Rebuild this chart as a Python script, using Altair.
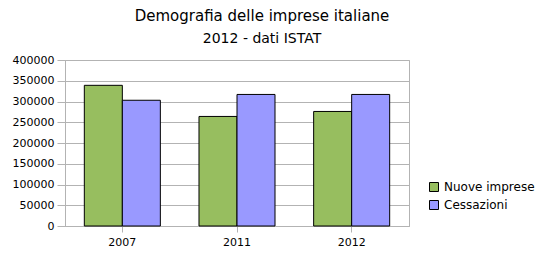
import altair as alt
import pandas as pd

years = ["2007", "2011", "2012"]
series_names = ["Nuove imprese", "Cessazioni"]
nuove_imprese = [339000, 264000, 276000]
cessazioni = [303000, 317000, 317000]
colors = ["#97BE5F", "#9999FF"]
y_ticks = [0, 50000, 100000, 150000, 200000, 250000, 300000, 350000, 400000]

rows = []
for i, y in enumerate(years):
    rows.append({"anno": y, "serie": series_names[0], "valore": nuove_imprese[i]})
    rows.append({"anno": y, "serie": series_names[1], "valore": cessazioni[i]})
df = pd.DataFrame(rows)

FONT = "DejaVu Sans"
GRID = "#b3b3b3"

chart = alt.Chart(df).mark_bar(stroke="black", strokeWidth=1).encode(
    x=alt.X("anno:N", sort=years, title=None,
            scale=alt.Scale(paddingInner=0.337, paddingOuter=0.1685),
            axis=alt.Axis(labelAngle=0, tickSize=6, tickColor=GRID, domainColor=GRID,
                          labelPadding=4, labelFontSize=11, labelColor="#000",
                          labelFont=FONT)),
    xOffset=alt.XOffset("serie:N", sort=series_names,
                        scale=alt.Scale(paddingInner=0, paddingOuter=0)),
    y=alt.Y("valore:Q", title=None,
            scale=alt.Scale(domain=[0, 400000], nice=False),
            axis=alt.Axis(values=y_ticks, format="d", tickSize=8, tickColor=GRID,
                          domainColor=GRID, gridColor=GRID, labelPadding=3,
                          labelFontSize=11, labelColor="#000", labelFont=FONT)),
    color=alt.Color("serie:N", sort=series_names,
                    scale=alt.Scale(domain=series_names, range=colors),
                    legend=alt.Legend(title=None, orient="none", legendX=363, legendY=121,
                                      symbolType="square", symbolSize=81,
                                      symbolStrokeColor="black", symbolStrokeWidth=1,
                                      labelFontSize=12, labelFont=FONT, labelColor="#000",
                                      rowPadding=4, labelOffset=4)),
).properties(
    width=344,
    height=166,
    padding={"left": 65, "top": 60, "right": 141, "bottom": 34},
    autosize=alt.AutoSizeParams(type="none"),
    title=alt.TitleParams(
        text="Demografia delle imprese italiane",
        subtitle="2012 - dati ISTAT",
        anchor="middle",
        frame="group",
        dx=25,
        offset=8,
        font=FONT,
        fontSize=15,
        fontWeight="normal",
        color="#000",
        subtitleFont=FONT,
        subtitleFontSize=14,
        subtitleColor="#000",
        subtitlePadding=8,
    ),
).configure_view(stroke=GRID, strokeWidth=1)

chart.save("out.html", embed_options={"renderer": "svg", "actions": False})
